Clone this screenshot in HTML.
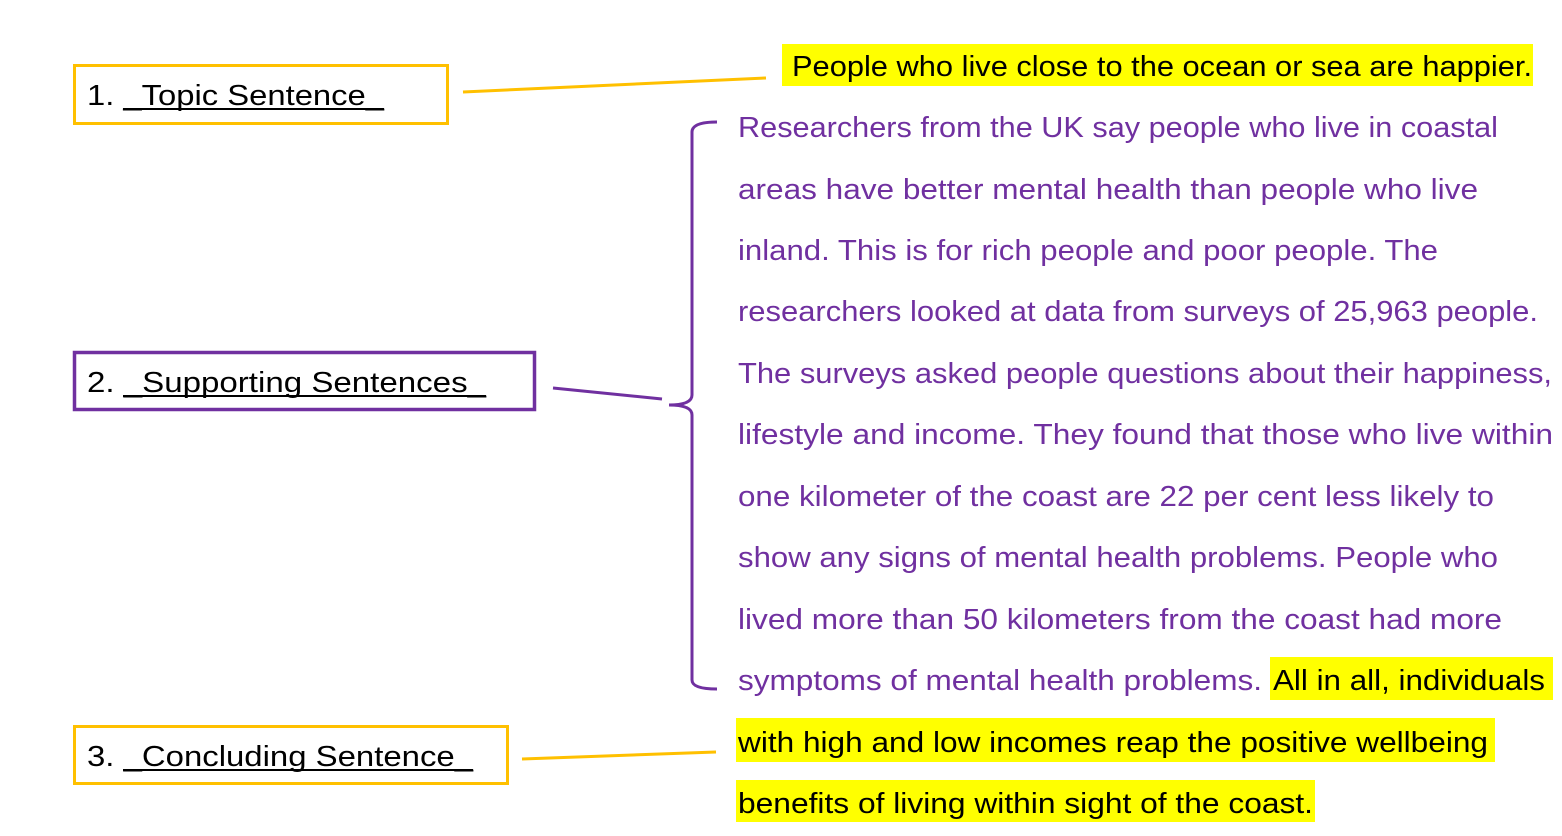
<!DOCTYPE html>
<html><head><meta charset="utf-8"><style>
html,body{margin:0;padding:0;background:#fff;}
svg{display:block;}
text{font-family:"Liberation Sans",sans-serif;font-size:29px;}
</style></head><body>
<svg width="1562" height="836" viewBox="0 0 1562 836" xmlns="http://www.w3.org/2000/svg">
<!-- highlights -->
<rect x="782" y="44" width="751" height="42" fill="#FFFF00"/>
<rect x="1270" y="657" width="283" height="43" fill="#FFFF00"/>
<rect x="736" y="718" width="759" height="44" fill="#FFFF00"/>
<rect x="736" y="780" width="579" height="42" fill="#FFFF00"/>
<!-- boxes -->
<rect x="74.5" y="65.5" width="373" height="58" fill="none" stroke="#FFC000" stroke-width="3"/>
<rect x="74.5" y="352.5" width="460" height="57" fill="none" stroke="#7030A0" stroke-width="3.5"/>
<rect x="74.5" y="726.5" width="433" height="57" fill="none" stroke="#FFC000" stroke-width="3"/>
<!-- labels -->
<text x="87" y="105" textLength="297" lengthAdjust="spacingAndGlyphs">1. _Topic Sentence_</text>
<line x1="123" y1="109" x2="384" y2="109" stroke="#000" stroke-width="2"/>
<text x="87" y="392" textLength="399" lengthAdjust="spacingAndGlyphs">2. _Supporting Sentences_</text>
<line x1="123" y1="396" x2="486" y2="396" stroke="#000" stroke-width="2"/>
<text x="87" y="766" textLength="386" lengthAdjust="spacingAndGlyphs">3. _Concluding Sentence_</text>
<line x1="123" y1="770" x2="473" y2="770" stroke="#000" stroke-width="2"/>
<!-- connectors -->
<line x1="463" y1="92" x2="766" y2="78" stroke="#FFC000" stroke-width="3"/>
<line x1="553" y1="388" x2="662" y2="399" stroke="#7030A0" stroke-width="3"/>
<line x1="522" y1="759" x2="716" y2="752" stroke="#FFC000" stroke-width="3"/>
<path d="M717,122 Q692,122 692,132 L692,395 Q692,405 669,405 Q692,405 692,415 L692,680 Q692,689 717,689" fill="none" stroke="#7030A0" stroke-width="3"/>
<!-- text -->
<g fill="#000">
<text x="792" y="76" textLength="740" lengthAdjust="spacingAndGlyphs">People who live close to the ocean or sea are happier.</text>
</g>
<g fill="#7030A0">
<text x="738" y="137" textLength="760" lengthAdjust="spacingAndGlyphs">Researchers from the UK say people who live in coastal</text>
<text x="738" y="199" textLength="740" lengthAdjust="spacingAndGlyphs">areas have better mental health than people who live</text>
<text x="738" y="260" textLength="700" lengthAdjust="spacingAndGlyphs">inland. This is for rich people and poor people. The</text>
<text x="738" y="321" textLength="800" lengthAdjust="spacingAndGlyphs">researchers looked at data from surveys of 25,963 people.</text>
<text x="738" y="383" textLength="814" lengthAdjust="spacingAndGlyphs">The surveys asked people questions about their happiness,</text>
<text x="738" y="444" textLength="815" lengthAdjust="spacingAndGlyphs">lifestyle and income. They found that those who live within</text>
<text x="738" y="506" textLength="756" lengthAdjust="spacingAndGlyphs">one kilometer of the coast are 22 per cent less likely to</text>
<text x="738" y="567" textLength="760" lengthAdjust="spacingAndGlyphs">show any signs of mental health problems. People who</text>
<text x="738" y="629" textLength="764" lengthAdjust="spacingAndGlyphs">lived more than 50 kilometers from the coast had more</text>
<text x="738" y="690" textLength="524" lengthAdjust="spacingAndGlyphs">symptoms of mental health problems.</text>
</g>
<g fill="#000">
<text x="1273" y="690" textLength="272" lengthAdjust="spacingAndGlyphs">All in all, individuals</text>
<text x="738" y="752" textLength="750" lengthAdjust="spacingAndGlyphs">with high and low incomes reap the positive wellbeing</text>
<text x="738" y="813" textLength="575" lengthAdjust="spacingAndGlyphs">benefits of living within sight of the coast.</text>
</g>
</svg>
</body></html>
